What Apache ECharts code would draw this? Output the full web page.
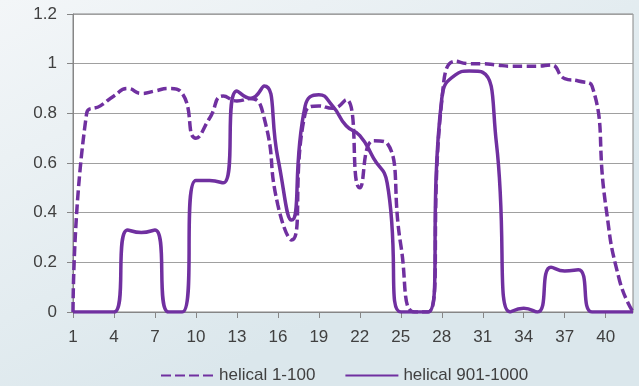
<!DOCTYPE html>
<html>
<head>
<meta charset="utf-8">
<script src="https://cdn.jsdelivr.net/npm/echarts@6/dist/echarts.min.js"></script>
<style>
  html, body { margin: 0; padding: 0; }
  #chart { width: 639px; height: 386px; }
</style>
</head>
<body>
<div id="chart"></div>
<script>
// Positions along the sequence
const categories = ['1','2','3','4','5','6','7','8','9','10','11','12','13','14','15','16','17','18','19','20','21',
  '22','23','24','25','26','27','28','29','30','31','32','33','34','35','36','37','38','39','40','41','42'];

// helical 1-100 (dashed)
const helical1to100 = [0, 0.8, 0.83, 0.87, 0.9, 0.88, 0.89, 0.9, 0.88, 0.7, 0.78, 0.87, 0.85, 0.86, 0.78,
  0.43, 0.29, 0.8, 0.83, 0.82, 0.855, 0.5, 0.69, 0.68, 0.27, 0, 0, 0.85, 1.01, 1.0, 1.0, 0.995, 0.99,
  0.99, 0.99, 0.995, 0.94, 0.93, 0.91, 0.43, 0.13, 0];

// helical 901-1000 (solid)
const helical901to1000 = [0, 0, 0, 0, 0.33, 0.32, 0.33, 0, 0, 0.53, 0.53, 0.52, 0.89, 0.86, 0.91,
  0.62, 0.37, 0.83, 0.875, 0.83, 0.75, 0.71, 0.62, 0.52, 0, 0, 0, 0.86, 0.955, 0.97, 0.965, 0.68, 0,
  0.015, 0, 0.18, 0.165, 0.17, 0, 0, 0, 0];

const seriesNames = ['helical 1-100', 'helical 901-1000'];

const purple = '#7030a0';
const textColor = '#404040';
const fontFamily = '"Liberation Sans", Arial, sans-serif';

const chart = echarts.init(document.getElementById('chart'), null, { renderer: 'canvas' });

chart.setOption({
  animation: false,
  backgroundColor: {
    type: 'linear', x: 0, y: 0, x2: 0.3, y2: 1,
    colorStops: [
      { offset: 0, color: '#f3f6f8' },
      { offset: 1, color: '#dbe7ec' }
    ]
  },
  textStyle: { fontFamily: fontFamily },
  grid: {
    left: 73, right: 6, top: 14, bottom: 74,
    show: true, backgroundColor: '#ffffff', borderColor: '#868686', borderWidth: 1
  },
  legend: {
    left: 160, top: 367, padding: 0,
    itemWidth: 53, itemHeight: 18, itemGap: 29,
    itemStyle: { opacity: 0 },
    textStyle: { color: textColor, fontSize: 17, fontFamily: fontFamily },
    data: seriesNames
  },
  xAxis: {
    type: 'category',
    data: categories,
    boundaryGap: false,
    axisLine: { lineStyle: { color: '#868686', width: 1 } },
    axisTick: { show: true, interval: 2, length: 6, lineStyle: { color: '#868686' } },
    axisLabel: { interval: 2, color: textColor, fontSize: 17, margin: 17 },
    splitLine: { show: false }
  },
  yAxis: {
    type: 'value',
    min: 0, max: 1.2, interval: 0.2,
    axisLine: { show: true, lineStyle: { color: '#868686', width: 1 } },
    axisTick: { show: true, length: 6, lineStyle: { color: '#868686' } },
    axisLabel: { color: textColor, fontSize: 17, margin: 16 },
    splitLine: { show: true, lineStyle: { color: '#a0a0a0', width: 1 } }
  },
  series: [
    {
      name: seriesNames[0],
      type: 'line',
      data: helical1to100,
      smooth: 0.55,
      symbol: 'none',
      clip: true,
      lineStyle: { color: purple, width: 3.5, type: [10, 4] },
      itemStyle: { color: purple }
    },
    {
      name: seriesNames[1],
      type: 'line',
      data: helical901to1000,
      smooth: 0.55,
      symbol: 'none',
      clip: true,
      lineStyle: { color: purple, width: 3.5, type: 'solid' },
      itemStyle: { color: purple }
    }
  ]
});
</script>
</body>
</html>
